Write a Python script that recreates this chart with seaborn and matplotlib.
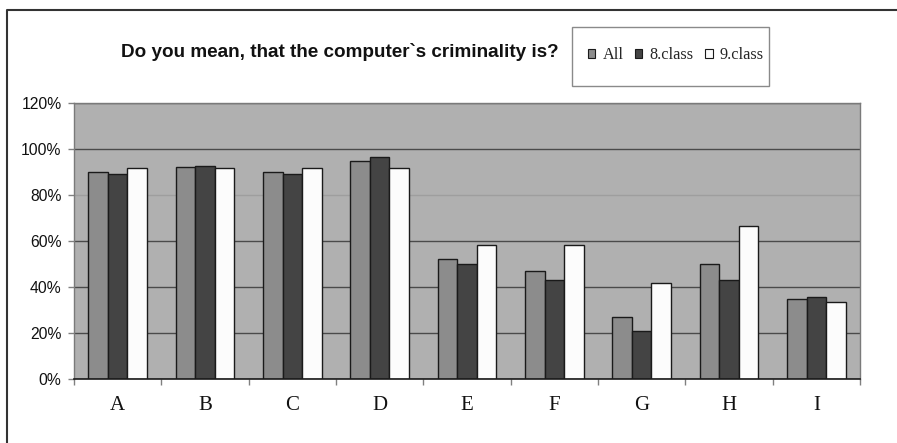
import matplotlib
matplotlib.use("Agg")
import matplotlib.pyplot as plt
from matplotlib.patches import Patch, Rectangle
from matplotlib.lines import Line2D
from matplotlib.ticker import FixedLocator, FuncFormatter
import seaborn as sns
import pandas as pd

# Survey answers per question, share of respondents in percent
questions = ["A", "B", "C", "D", "E", "F", "G", "H", "I"]
groups = ["All", "8.class", "9.class"]
share_all = [90, 92, 90, 95, 52, 47, 27, 50, 35]
share_8class = [89, 92.5, 89, 96.5, 50, 43, 21, 43, 35.5]
share_9class = [91.67, 91.67, 91.67, 91.67, 58.33, 58.33, 41.67, 66.67, 33.33]
y_ticks = [0, 20, 40, 60, 80, 100, 120]

title = "Do you mean, that the computer`s criminality is?"

colors = {"All": "#8c8c8c", "8.class": "#444444", "9.class": "#fcfcfc"}

df = pd.DataFrame({
    "question": questions * 3,
    "group": [g for g in groups for _ in questions],
    "share": share_all + share_8class + share_9class,
})

sns.set_style("white")
plt.rcParams["font.family"] = ["Liberation Sans", "DejaVu Sans"]

W, H = 897, 443
fig = plt.figure(figsize=(W / 100, H / 100), dpi=100)
fig.patch.set_facecolor("white")

# plot area in pixel terms
left, right, top, bottom = 74, 860, 103, 379
ax = fig.add_axes([left / W, 1 - bottom / H, (right - left) / W, (bottom - top) / H])
ax.set_facecolor("#b0b0b0")

sns.barplot(data=df, x="question", y="share", hue="group", order=questions,
            hue_order=groups, palette=colors, saturation=1, width=0.67, gap=0,
            edgecolor="#1a1a1a", linewidth=1.0, errorbar=None, legend=False,
            ax=ax, zorder=3)

ax.set_xlim(-0.5, len(questions) - 0.5)
ax.set_ylim(0, 120)
ax.set_xlabel("")
ax.set_ylabel("")

# y axis: percent labels with horizontal grid
ax.yaxis.set_major_locator(FixedLocator(y_ticks))
ax.yaxis.set_major_formatter(FuncFormatter(lambda v, p: f"{v:.0f}%"))
ax.tick_params(axis="y", which="major", length=4, width=1, color="#808080",
               pad=5, labelsize=11.3, labelcolor="#111111", left=True)
ax.grid(axis="y", color="#4a4a4a", linewidth=1.0, zorder=0)
ax.set_axisbelow(True)
for val, gl in zip(y_ticks, ax.get_ygridlines()):
    if val == 80:
        gl.set_color("#9e9e9e")

# x axis: tick marks between categories, letters centred under groups
ax.xaxis.set_major_locator(FixedLocator([i - 0.5 for i in range(len(questions) + 1)]))
ax.xaxis.set_minor_locator(FixedLocator(list(range(len(questions)))))
ax.xaxis.set_major_formatter(FuncFormatter(lambda v, p: ""))
ax.xaxis.set_minor_formatter(FuncFormatter(lambda v, p: questions[int(round(v))]))
ax.tick_params(axis="x", which="major", length=4, width=1, color="#808080",
               bottom=True, direction="out")
ax.tick_params(axis="x", which="minor", length=0, pad=12)
for lbl in ax.get_xticklabels(minor=True):
    lbl.set_fontfamily(["Liberation Serif", "DejaVu Serif"])
    lbl.set_fontsize(15)
    lbl.set_color("#111111")

for side in ["left", "top", "right"]:
    ax.spines[side].set_color("#7a7a7a")
    ax.spines[side].set_linewidth(1.0)
ax.spines["bottom"].set_color("#1a1a1a")
ax.spines["bottom"].set_linewidth(1.2)
ax.spines["bottom"].set_zorder(4)

# title
fig.text(340 / W, 1 - 52 / H, title, ha="center", va="center",
         fontsize=13.6, fontweight="bold", color="#111111")

# legend box with a horizontal row of entries
fig.add_artist(Rectangle((571.7 / W, 1 - 85.7 / H), 197.3 / W, 59 / H,
                         transform=fig.transFigure, facecolor="white",
                         edgecolor="#8a8a8a", linewidth=1.0))
handles = [Patch(facecolor=colors[g], edgecolor="#1a1a1a", linewidth=0.8) for g in groups]
fig.legend(handles, groups, ncol=3, frameon=False, loc="center",
           bbox_to_anchor=(676 / W, 1 - 55 / H), bbox_transform=fig.transFigure,
           handlelength=0.45, handleheight=0.45, handletextpad=0.45,
           columnspacing=0.7, borderpad=0, borderaxespad=0,
           prop={"family": ["Liberation Serif", "DejaVu Serif"], "size": 11.7})

# outer frame of the chart (top and left edges)
fig.add_artist(Line2D([7.3 / W, 7.3 / W, 1.0], [0.0, 1 - 10.3 / H, 1 - 10.3 / H],
                      transform=fig.transFigure, color="#333333", linewidth=1.5))

fig.savefig("out.png", dpi=100, facecolor="white")
